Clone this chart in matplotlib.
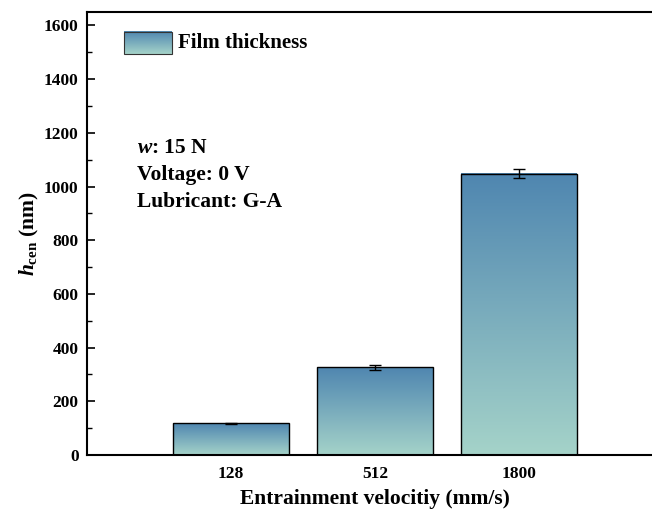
import matplotlib
matplotlib.use("Agg")
import matplotlib.pyplot as plt
import numpy as np
from matplotlib.colors import LinearSegmentedColormap
from matplotlib.patches import Rectangle
from matplotlib.ticker import MultipleLocator

plt.rcParams['font.family'] = ['Liberation Serif', 'DejaVu Serif']
plt.rcParams['font.weight'] = 'bold'
plt.rcParams['mathtext.fontset'] = 'custom'
plt.rcParams['mathtext.rm'] = 'Liberation Serif:bold'
plt.rcParams['mathtext.it'] = 'Liberation Serif:bold:italic'
plt.rcParams['mathtext.bf'] = 'Liberation Serif:bold'

categories = ['128', '512', '1800']
values = [118, 326, 1048]
errors = [3, 8, 16]
yticks = [0, 200, 400, 600, 800, 1000, 1200, 1400, 1600]

top_color = '#4f86b0'
bottom_color = '#a5d3c9'
cmap = LinearSegmentedColormap.from_list('g', [bottom_color, top_color])

fig = plt.figure(figsize=(6.52, 5.12), dpi=100)
ax = fig.add_axes([87/652, (512-455)/512, (663-87)/652, (455-12)/512])

x = np.arange(1, len(categories) + 1)
width = 0.8
grad = np.linspace(0, 1, 256).reshape(-1, 1)
for xi, v in zip(x, values):
    ax.imshow(grad, cmap=cmap, origin='lower', aspect='auto',
              extent=[xi - width/2, xi + width/2, 0, v], zorder=2)
    ax.add_patch(Rectangle((xi - width/2, 0), width, v, fill=False,
                           edgecolor='black', linewidth=1.0, zorder=3))
ax.errorbar(x, values, yerr=errors, fmt='none', ecolor='black',
            elinewidth=1.0, capsize=4, capthick=1.0, zorder=4)

ax.set_xlim(0, 4)
ax.set_ylim(0, 1650)
ax.set_xticks(x)
ax.set_xticklabels(categories)
ax.set_yticks(yticks)
ax.yaxis.set_minor_locator(MultipleLocator(100))
ax.tick_params(axis='y', which='major', direction='in', length=6, width=1.2, labelsize=12.5, pad=6)
ax.tick_params(axis='y', which='minor', direction='in', length=3.5, width=1.0)
ax.tick_params(axis='x', which='major', direction='in', length=5, width=1.0, labelsize=12.5, pad=8)
for s in ['left', 'bottom', 'top', 'right']:
    ax.spines[s].set_linewidth(1.5)

ax.set_xlabel('Entrainment velocitiy (mm/s)', fontsize=15.5, fontweight='bold', labelpad=5)
ax.set_ylabel(r'$h_{\mathrm{cen}}$ (nm)', fontsize=15.5, fontweight='bold', labelpad=2)

# legend
ax.imshow(grad, cmap=cmap, origin='lower', aspect='auto', zorder=2,
          extent=[0.26, 0.59, 1493, 1575], clip_on=False)
ax.add_patch(Rectangle((0.26, 1493), 0.33, 82, fill=False, edgecolor='#333333', linewidth=0.8, zorder=3))
ax.text(0.635, 1534, 'Film thickness', fontsize=15, fontweight='bold', va='center', ha='left')

ax.text(0.35, 1042, r'$w$: 15 N' + '\n' + 'Voltage: 0 V' + '\n' + 'Lubricant: G-A',
        fontsize=15.5, fontweight='bold', va='center', ha='left', linespacing=1.45)

fig.savefig('out.png', dpi=100)
